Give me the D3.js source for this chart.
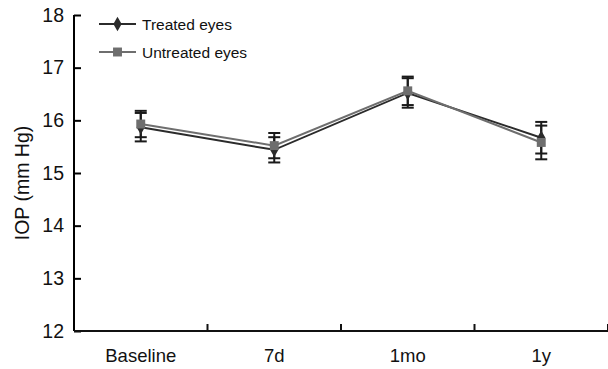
<!DOCTYPE html>
<html>
<head>
<meta charset="utf-8">
<script src="https://cdn.jsdelivr.net/npm/d3@7/dist/d3.min.js"></script>
<style>
  body { margin: 0; background: #fff; }
  text { font-family: "Liberation Sans", Arial, sans-serif; }
</style>
</head>
<body>
<svg id="chart" width="608" height="369"></svg>
<script>
const categories = ["Baseline", "7d", "1mo", "1y"];
const treated = [15.87, 15.44, 16.52, 15.67];
const treatedErr = [0.27, 0.24, 0.28, 0.30];
const untreated = [15.93, 15.52, 16.56, 15.58];
const untreatedErr = [0.25, 0.24, 0.27, 0.32];
const yTicks = [12, 13, 14, 15, 16, 17, 18];

const svg = d3.select("#chart");
const margin = { top: 15, right: 0, bottom: 38, left: 74 };
const width = 608 - margin.left - margin.right;
const height = 369 - margin.top - margin.bottom;

const g = svg.append("g").attr("transform", `translate(${margin.left},${margin.top})`);

const x = d3.scaleBand().domain(categories).range([0, width]);
const y = d3.scaleLinear().domain([12, 18]).range([height, 0]);
const cx = d => x(d) + x.bandwidth() / 2;

// y axis
const yAxis = g.append("g")
  .call(d3.axisLeft(y).tickValues(yTicks).tickSize(-7).tickPadding(10).tickFormat(d3.format("d")));
yAxis.select(".domain").attr("stroke-width", 2).attr("d", `M0,0V${height}`);
yAxis.selectAll(".tick line").attr("stroke-width", 2);
yAxis.selectAll("text").attr("font-size", 19.5).attr("fill", "#111");

// x axis, ticks sit on the band edges
const xg = g.append("g").attr("transform", `translate(0,${height})`);
xg.append("line").attr("x1", 0).attr("x2", width).attr("stroke", "#111").attr("stroke-width", 2);
xg.selectAll("line.tk")
  .data(categories)
  .enter().append("line")
  .attr("class", "tk")
  .attr("x1", d => x(d) + x.bandwidth())
  .attr("x2", d => x(d) + x.bandwidth())
  .attr("y1", 0).attr("y2", -7)
  .attr("stroke", "#111").attr("stroke-width", 2);
xg.selectAll("text")
  .data(categories)
  .enter().append("text")
  .attr("x", d => cx(d))
  .attr("y", 31)
  .attr("text-anchor", "middle")
  .attr("font-size", 18.5)
  .attr("fill", "#111")
  .text(d => d);

// axis title
svg.append("text")
  .attr("transform", `translate(29,${margin.top + height / 2 + 10}) rotate(-90)`)
  .attr("text-anchor", "middle")
  .attr("font-size", 19.5)
  .attr("fill", "#111")
  .text("IOP (mm Hg)");

const series = [
  { name: "Treated eyes", values: treated, err: treatedErr, color: "#2b2b2b", shape: d3.symbolDiamond, size: 60 },
  { name: "Untreated eyes", values: untreated, err: untreatedErr, color: "#6e6e6e", shape: d3.symbolSquare, size: 80 }
];

const line = d3.line().x((d, i) => cx(categories[i])).y(d => y(d));

// error bars
series.forEach(s => {
  const eb = g.append("g");
  s.values.forEach((v, i) => {
    const xc = cx(categories[i]);
    eb.append("line").attr("x1", xc).attr("x2", xc)
      .attr("y1", y(v - s.err[i])).attr("y2", y(v + s.err[i]))
      .attr("stroke", "#1a1a1a").attr("stroke-width", 2);
    [v - s.err[i], v + s.err[i]].forEach(e => {
      eb.append("line").attr("x1", xc - 6).attr("x2", xc + 6)
        .attr("y1", y(e)).attr("y2", y(e))
        .attr("stroke", "#1a1a1a").attr("stroke-width", 2);
    });
  });
});

// lines
series.forEach(s => {
  g.append("path").datum(s.values)
    .attr("d", line)
    .attr("fill", "none")
    .attr("stroke", s.color)
    .attr("stroke-width", 2);
});

// markers
series.forEach(s => {
  g.append("g").selectAll("path")
    .data(s.values)
    .enter().append("path")
    .attr("transform", (d, i) => `translate(${cx(categories[i])},${y(d)})`)
    .attr("d", d3.symbol().type(s.shape).size(s.size))
    .attr("fill", s.color);
});

// legend
const legend = svg.append("g").attr("transform", "translate(99,24)");
series.forEach((s, i) => {
  const row = legend.append("g").attr("transform", `translate(0,${i * 28})`);
  row.append("line").attr("x1", 0).attr("x2", 37).attr("stroke", s.color).attr("stroke-width", 2);
  row.append("path").attr("transform", "translate(18.5,0)")
    .attr("d", d3.symbol().type(s.shape).size(s.size)).attr("fill", s.color);
  row.append("text").attr("x", 43).attr("y", 5.5).attr("font-size", 15.5).attr("fill", "#111").text(s.name);
});
</script>
</body>
</html>
